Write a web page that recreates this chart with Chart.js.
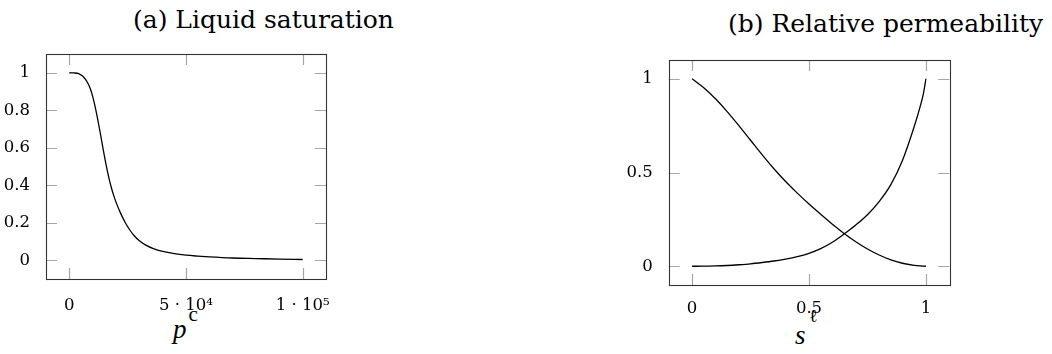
<!DOCTYPE html>
<html>
<head>
<meta charset="utf-8">
<script src="https://cdn.jsdelivr.net/npm/chart.js@4.4.1/dist/chart.umd.min.js"></script>
<style>
  body { margin: 0; background: #fff; width: 1052px; height: 354px; position: relative; overflow: hidden; }
  .txt { position: absolute; font-family: "DejaVu Serif", serif; color: #000; white-space: nowrap; }
  .mi { font-family: "Liberation Serif", serif; font-style: italic; }
  .rm { font-family: "Liberation Serif", serif; }
  canvas { position: absolute; }
</style>
</head>
<body>
<div class="txt" style="left:133px; top:7px; font-size:25px; line-height:25px;">(a) Liquid saturation</div>
<div class="txt" style="left:728px; top:10.5px; font-size:25px; line-height:25px;">(b) Relative permeability</div>

<!-- axis labels: p^c and s^ell -->
<div class="txt mi" style="left:173px; top:315.5px; font-size:27px; line-height:26px;">p</div>
<div class="txt rm" style="left:188.5px; top:304px; font-size:21px; line-height:21px;">c</div>
<div class="txt mi" style="left:795px; top:321.5px; font-size:27px; line-height:26px;">s</div>
<div class="txt" style="left:809px; top:307px; font-size:18px; line-height:18px;">ℓ</div>

<canvas id="chartA" width="346" height="320" style="left:0px; top:0px;"></canvas>
<canvas id="chartB" width="380" height="330" style="left:600px; top:0px;"></canvas>

<script>
// (a) liquid saturation vs capillary pressure
const pcValues  = [0, 2000, 4000, 5000, 6000, 7000, 8000, 9000, 10000, 11000, 12000, 13000, 14000, 15000, 16000, 17000, 18000, 19000, 20000,
                   22000, 24000, 26000, 28000, 30000, 33000, 36000, 40000, 45000, 50000, 55000, 60000, 70000, 80000, 90000, 100000];
const satValues = [1.0, 0.999, 0.995, 0.988, 0.979, 0.963, 0.943, 0.915, 0.874, 0.822, 0.762, 0.696, 0.627, 0.558, 0.494, 0.437, 0.388, 0.346, 0.31,
                   0.25, 0.2, 0.16, 0.128, 0.104, 0.079, 0.062, 0.047, 0.035, 0.027, 0.022, 0.018, 0.012, 0.009, 0.006, 0.004];
const pcTicks = [0, 50000, 100000];
const pcTickLabels = ["0", "5 · 10⁴", "1 · 10⁵"];
const satTicks = [0, 0.2, 0.4, 0.6, 0.8, 1];
const satTickLabels = ["0", "0.2", "0.4", "0.6", "0.8", "1"];

// (b) relative permeabilities vs liquid saturation
const sValues = [0, 0.05, 0.1, 0.15, 0.2, 0.25, 0.3, 0.35, 0.4, 0.45, 0.5, 0.55, 0.6, 0.65, 0.7, 0.75, 0.8, 0.85, 0.9, 0.95, 0.975, 0.99, 1];
const krGas = [1.0, 0.952, 0.893, 0.825, 0.75, 0.672, 0.594, 0.52, 0.452, 0.39, 0.332, 0.277, 0.224, 0.175, 0.131, 0.092, 0.06, 0.034, 0.016, 0.005, 0.0015, 0.0003, 0.0];
const krLiq = [0, 0.0002, 0.0015, 0.004, 0.008, 0.013, 0.02, 0.028, 0.038, 0.051, 0.069, 0.094, 0.128, 0.172, 0.22, 0.275, 0.345, 0.435, 0.565, 0.745, 0.85, 0.925, 1.0];
const sTicks = [0, 0.5, 1];
const sTickLabels = ["0", "0.5", "1"];
const krTicks = [0, 0.5, 1];
const krTickLabels = ["0", "0.5", "1"];

const tickFont = { family: "DejaVu Serif", size: 16.5, lineHeight: 1.2 };

// pgfplots-like box with inward ticks on all four sides
const pgfBox = {
  id: 'pgfBox',
  beforeDatasetsDraw(chart) {
    const a = chart.chartArea, c = chart.ctx, len = 11;
    c.save();
    c.strokeStyle = '#a6a6a6';
    c.lineWidth = 1.2;
    c.beginPath();
    chart.scales.x.ticks.forEach(t => {
      const px = Math.round(chart.scales.x.getPixelForValue(t.value)) + 0.5;
      c.moveTo(px, a.top); c.lineTo(px, a.top + len);
      c.moveTo(px, a.bottom); c.lineTo(px, a.bottom - len);
    });
    chart.scales.y.ticks.forEach(t => {
      const py = Math.round(chart.scales.y.getPixelForValue(t.value)) + 0.5;
      c.moveTo(a.left, py); c.lineTo(a.left + len, py);
      c.moveTo(a.right, py); c.lineTo(a.right - len, py);
    });
    c.stroke();
    c.restore();
  },
  afterDatasetsDraw(chart) {
    const a = chart.chartArea, c = chart.ctx;
    c.save();
    c.strokeStyle = '#333';
    c.lineWidth = 1.1;
    c.strokeRect(Math.round(a.left) + 0.5, Math.round(a.top) + 0.5, Math.round(a.right - a.left), Math.round(a.bottom - a.top));
    c.restore();
  }
};

function makeSeries(xs, ys) {
  return xs.map((x, i) => ({ x: x, y: ys[i] }));
}

function lineSet(xs, ys) {
  return {
    data: makeSeries(xs, ys),
    showLine: true,
    borderColor: '#000',
    borderWidth: 1.3,
    pointRadius: 0,
    cubicInterpolationMode: 'monotone',
    fill: false
  };
}

function makeChart(id, datasets, xr, yr, xt, xl, yt, yl, yWidth, xHeight, pad, xPad) {
  return new Chart(document.getElementById(id), {
    type: 'scatter',
    data: { datasets: datasets },
    options: {
      responsive: false,
      animation: false,
      devicePixelRatio: 1,
      layout: { padding: pad },
      plugins: { legend: { display: false }, tooltip: { enabled: false } },
      scales: {
        x: {
          type: 'linear', min: xr[0], max: xr[1],
          grid: { display: false }, border: { display: false },
          afterBuildTicks: s => { s.ticks = xt.map(v => ({ value: v })); },
          afterFit: s => { s.height = xHeight; },
          ticks: {
            color: '#000', font: tickFont, padding: xPad, maxRotation: 0,
            callback: v => xl[xt.indexOf(v)]
          }
        },
        y: {
          type: 'linear', min: yr[0], max: yr[1],
          grid: { display: false }, border: { display: false },
          afterBuildTicks: s => { s.ticks = yt.map(v => ({ value: v })); },
          afterFit: s => { s.width = yWidth; },
          ticks: {
            color: '#000', font: tickFont, padding: 8,
            callback: v => yl[yt.indexOf(v)]
          }
        }
      }
    },
    plugins: [pgfBox]
  });
}

makeChart('chartA', [lineSet(pcValues, satValues)],
  [-10000, 110000], [-0.1, 1.1],
  pcTicks, pcTickLabels, satTicks, satTickLabels,
  46, 41, { left: 0, top: 54, right: 20, bottom: 0 }, 8.5);

makeChart('chartB', [lineSet(sValues, krGas), lineSet(sValues, krLiq)],
  [-0.1, 1.1], [-0.1, 1.1],
  sTicks, sTickLabels, krTicks, krTickLabels,
  68.7, 45, { left: 0, top: 60, right: 30.7, bottom: 0 }, 5.5);
</script>
</body>
</html>
